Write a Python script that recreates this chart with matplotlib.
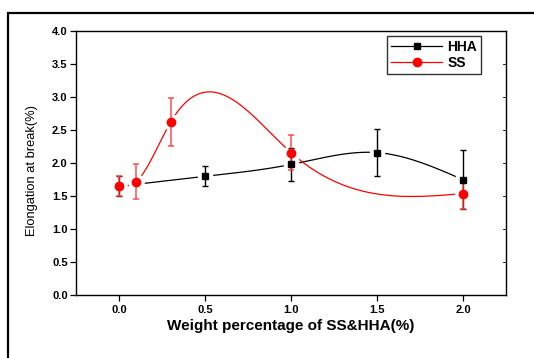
import numpy as np
import matplotlib
matplotlib.use("Agg")
import matplotlib.pyplot as plt
from matplotlib.patches import Rectangle

plt.rcParams['font.family'] = ['Liberation Sans', 'DejaVu Sans']

# Data
hha_x = [0.0, 0.5, 1.0, 1.5, 2.0]
hha_y = [1.65, 1.80, 1.98, 2.16, 1.75]
hha_err = [0.15, 0.15, 0.25, 0.35, 0.45]

ss_x = [0.0, 0.1, 0.3, 1.0, 2.0]
ss_y = [1.65, 1.72, 2.62, 2.16, 1.54]
ss_err = [0.15, 0.26, 0.36, 0.26, 0.24]

xticks = [0.0, 0.5, 1.0, 1.5, 2.0]
yticks = [0.0, 0.5, 1.0, 1.5, 2.0, 2.5, 3.0, 3.5, 4.0]


def natural_spline(x, y, xs):
    x = np.asarray(x, float); y = np.asarray(y, float)
    n = len(x)
    h = np.diff(x)
    A = np.zeros((n, n)); b = np.zeros(n)
    A[0, 0] = 1; A[-1, -1] = 1
    for i in range(1, n - 1):
        A[i, i - 1] = h[i - 1]
        A[i, i] = 2 * (h[i - 1] + h[i])
        A[i, i + 1] = h[i]
        b[i] = 3 * ((y[i + 1] - y[i]) / h[i] - (y[i] - y[i - 1]) / h[i - 1])
    c = np.linalg.solve(A, b)
    out = np.empty_like(xs)
    for k, xv in enumerate(xs):
        i = min(max(np.searchsorted(x, xv) - 1, 0), n - 2)
        dx = xv - x[i]
        bi = (y[i + 1] - y[i]) / h[i] - h[i] * (2 * c[i] + c[i + 1]) / 3
        di = (c[i + 1] - c[i]) / (3 * h[i])
        out[k] = y[i] + bi * dx + c[i] * dx ** 2 + di * dx ** 3
    return out


fig = plt.figure(figsize=(5.34, 3.58), dpi=100)
ax = fig.add_axes([76 / 534, 1 - 295.3 / 358, 430 / 534, 264.3 / 358])

# outer frame
fig.patches.append(Rectangle((8 / 534, -0.05), 1.2, (358 - 13) / 358 + 0.05,
                             transform=fig.transFigure, fill=False,
                             edgecolor='black', linewidth=1.6, zorder=10))

xs_h = np.linspace(hha_x[0], hha_x[-1], 400)
xs_s = np.linspace(ss_x[0], ss_x[-1], 400)
ax.plot(xs_h, natural_spline(hha_x, hha_y, xs_h), color='black', lw=0.9, zorder=1)
ax.plot(xs_s, natural_spline(ss_x, ss_y, xs_s), color='red', lw=0.9, zorder=1)

# halo gaps around markers
ax.plot(hha_x, hha_y, 's', ms=10, color='white', zorder=2)
ax.plot(ss_x, ss_y, 'o', ms=11, color='white', zorder=2)

ax.errorbar(hha_x, hha_y, yerr=hha_err, fmt='none', ecolor='black', elinewidth=1.0,
            capsize=2.5, capthick=1.0, zorder=3)
ax.errorbar(ss_x, ss_y, yerr=ss_err, fmt='none', ecolor=(1, 0.25, 0.25), elinewidth=1.2,
            capsize=2.5, capthick=1.2, zorder=3, alpha=0.85)

ax.plot(hha_x, hha_y, 's', ms=5, color='black', zorder=4)
ax.plot(ss_x, ss_y, 'o', ms=6, color='red', zorder=4)

h1, = ax.plot([], [], '-s', color='black', ms=5, lw=0.9)
h2, = ax.plot([], [], '-o', color='red', ms=6, lw=0.9)
leg = ax.legend([h1, h2], ['HHA', 'SS'], loc='upper right',
                bbox_to_anchor=((481 - 76) / 430, (295.3 - 36) / 264.3),
                prop={'weight': 'bold', 'size': 10}, frameon=True, fancybox=False,
                edgecolor='black', borderpad=0.3, labelspacing=0.1, handlelength=3.7,
                handletextpad=0.35, borderaxespad=0)
leg.get_frame().set_linewidth(1.0)

ax.set_xlim(-0.25, 2.25)
ax.set_ylim(0, 4.0)
ax.set_xticks(xticks)
ax.set_xticklabels([f"{t:.1f}" for t in xticks])
ax.set_yticks(yticks)
ax.set_yticklabels([f"{t:.1f}" for t in yticks])
ax.tick_params(axis='both', direction='out', length=4, width=0.9, labelsize=8, pad=2)
for lab in ax.get_xticklabels() + ax.get_yticklabels():
    lab.set_fontweight('bold')
ax.tick_params(axis='x', pad=3)

# right inward ticks
for t in yticks:
    ax.plot([1.0, 0.992], [t, t], transform=ax.get_yaxis_transform(), color='black',
            lw=0.6, clip_on=False, zorder=5)

for s in ax.spines.values():
    s.set_linewidth(1.0)

ax.set_xlabel('Weight percentage of SS&HHA(%)', fontsize=11, fontweight='bold', labelpad=3)
ax.set_ylabel('Elongation at break(%)', fontsize=9.3)
ax.yaxis.set_label_coords((38 - 76) / 430, (295.3 - 171) / 264.3)

fig.savefig('out.png', dpi=100)
